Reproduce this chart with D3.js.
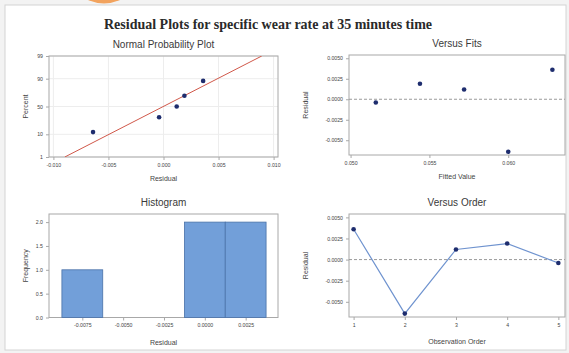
<!DOCTYPE html>
<html>
<head>
<meta charset="utf-8">
<script src="https://cdn.jsdelivr.net/npm/d3@7"></script>
<style>
  html, body { margin: 0; padding: 0; background: #f3f3f3; }
  svg { display: block; }
  text { font-family: "Liberation Sans", Arial, sans-serif; fill: #333; }
</style>
</head>
<body>
<script>
// Residual diagnostics for specific wear rate (35 min), in observation order
const observationOrder = [1, 2, 3, 4, 5];
const residuals = [0.0036, -0.0064, 0.0012, 0.0019, -0.0004];
const fittedValues = [0.0628, 0.0600, 0.0572, 0.0544, 0.0516];

// Histogram bins (centres) and counts
const histBinCenters = [-0.0075, -0.0050, -0.0025, 0.0000, 0.0025];
const histCounts = [1, 0, 0, 2, 2];

// Tick values / labels
const percentTicks = [1, 10, 50, 90, 99];
const nppResidualTicks = [-0.010, -0.005, 0.000, 0.005, 0.010];
const residualTicks = [-0.0050, -0.0025, 0.0000, 0.0025, 0.0050];
const fitTicks = [0.050, 0.055, 0.060];
const frequencyTicks = [0.0, 0.5, 1.0, 1.5, 2.0];

const W = 569, H = 353;
const svg = d3.select("body").append("svg").attr("width", W).attr("height", H);

svg.append("rect").attr("width", W).attr("height", H).attr("fill", "#f3f3f3");
svg.append("rect").attr("x", 5).attr("y", 5).attr("width", 561).attr("height", 345)
  .attr("fill", "#ffffff").attr("stroke", "#d4d4d4");
// decorative badge at the top edge
svg.append("circle").attr("cx", 104).attr("cy", -35).attr("r", 38.5).attr("fill", "#f2a35e");

svg.append("text").attr("x", 268).attr("y", 29).attr("text-anchor", "middle")
  .style("font-family", "'Liberation Serif', 'Times New Roman', serif")
  .style("font-weight", "bold").style("font-size", "14px").style("fill", "#2a2a2a")
  .text("Residual Plots for specific wear rate at 35 minutes time");

const frameColor = "#a8a8a8";
const markColor = "#1e2d6e";
const minus = s => s.replace("\u2212", "-");

// inverse standard normal CDF (Acklam's approximation)
function probit(p) {
  const a = [-39.69683028665376, 220.9460984245205, -275.9285104469687, 138.3577518672690, -30.66479806614716, 2.506628277459239];
  const b = [-54.47609879822406, 161.5858368580409, -155.6989798598866, 66.80131188771972, -13.28068155288572];
  const c = [-0.007784894002430293, -0.3223964580411365, -2.400758277161838, -2.549732539343734, 4.374664141464968, 2.938163982698783];
  const d = [0.007784695709041462, 0.3224671290700398, 2.445134137142996, 3.754408661907416];
  const pl = 0.02425;
  if (p < pl) {
    const q = Math.sqrt(-2 * Math.log(p));
    return (((((c[0]*q+c[1])*q+c[2])*q+c[3])*q+c[4])*q+c[5]) / ((((d[0]*q+d[1])*q+d[2])*q+d[3])*q+1);
  }
  if (p > 1 - pl) {
    const q = Math.sqrt(-2 * Math.log(1 - p));
    return -(((((c[0]*q+c[1])*q+c[2])*q+c[3])*q+c[4])*q+c[5]) / ((((d[0]*q+d[1])*q+d[2])*q+d[3])*q+1);
  }
  const q = p - 0.5, r = q * q;
  return (((((a[0]*r+a[1])*r+a[2])*r+a[3])*r+a[4])*r+a[5])*q / (((((b[0]*r+b[1])*r+b[2])*r+b[3])*r+b[4])*r+1);
}

function panel(box, title, xLabel, yLabel, xScale, yScale, xTicks, yTicks, xFmt, yFmt, grid) {
  const g = svg.append("g");
  if (grid) {
    g.selectAll(".gx").data(xTicks).join("line")
      .attr("x1", d => xScale(d)).attr("x2", d => xScale(d))
      .attr("y1", box.top).attr("y2", box.bottom).attr("stroke", "#ededed");
    g.selectAll(".gy").data(yTicks).join("line")
      .attr("y1", d => yScale(d)).attr("y2", d => yScale(d))
      .attr("x1", box.left).attr("x2", box.right).attr("stroke", "#ededed");
  }
  const xAxis = g.append("g").attr("transform", `translate(0,${box.bottom})`)
    .call(d3.axisBottom(xScale).tickValues(xTicks).tickFormat(xFmt).tickSize(3).tickSizeOuter(0).tickPadding(3));
  const yAxis = g.append("g").attr("transform", `translate(${box.left},0)`)
    .call(d3.axisLeft(yScale).tickValues(yTicks).tickFormat(yFmt).tickSize(3).tickSizeOuter(0).tickPadding(3));
  [xAxis, yAxis].forEach(a => {
    a.select(".domain").remove();
    a.selectAll("line").attr("stroke", frameColor);
    a.selectAll("text").style("font-size", "5.2px").style("fill", "#444");
  });
  g.append("rect").attr("x", box.left).attr("y", box.top)
    .attr("width", box.right - box.left).attr("height", box.bottom - box.top)
    .attr("fill", "none").attr("stroke", frameColor).attr("stroke-width", 1);
  const cx = (box.left + box.right) / 2;
  svg.append("text").attr("x", cx).attr("y", box.top - 8).attr("text-anchor", "middle")
    .style("font-size", "10px").style("fill", "#3a3a3a").text(title);
  svg.append("text").attr("x", cx).attr("y", box.bottom + box.xLabelGap).attr("text-anchor", "middle")
    .style("font-size", "7px").style("fill", "#444").text(xLabel);
  svg.append("text")
    .attr("transform", `translate(${box.left - box.yLabelGap},${(box.top + box.bottom) / 2}) rotate(-90)`)
    .attr("text-anchor", "middle").style("font-size", "7px").style("fill", "#444").text(yLabel);
  return g;
}

// ---------- Normal probability plot ----------
{
  const box = {left: 49, right: 278, top: 56, bottom: 157, xLabelGap: 24, yLabelGap: 21};
  const x = d3.scaleLinear().domain([-0.0104, 0.0104]).range([box.left, box.right]);
  // y runs in standard-normal quantiles so the percent axis is probability-scaled
  const zTicks = percentTicks.map(p => probit(p / 100));
  const y = d3.scaleLinear().domain([zTicks[0], zTicks[zTicks.length - 1]]).range([box.bottom, box.top]);
  const g = panel(box, "Normal Probability Plot", "Residual", "Percent", x, y,
    nppResidualTicks, zTicks, d => minus(d3.format(".3f")(d)), (d, i) => percentTicks[i], true);

  const n = residuals.length;
  const sorted = residuals.slice().sort(d3.ascending);
  const pts = sorted.map((r, i) => ({r, z: probit((i + 1 - 0.375) / (n + 0.25))}));
  const mu = d3.mean(residuals), sd = d3.deviation(residuals);
  svg.append("clipPath").attr("id", "nppClip").append("rect")
    .attr("x", box.left).attr("y", box.top).attr("width", box.right - box.left).attr("height", box.bottom - box.top);
  const zLo = zTicks[0], zHi = zTicks[zTicks.length - 1];
  g.append("line").attr("clip-path", "url(#nppClip)")
    .attr("x1", x(mu + zLo * sd)).attr("y1", y(zLo))
    .attr("x2", x(mu + zHi * sd)).attr("y2", y(zHi))
    .attr("stroke", "#d0584a").attr("stroke-width", 1);
  g.selectAll(".pt").data(pts).join("circle")
    .attr("cx", d => x(d.r)).attr("cy", d => y(d.z)).attr("r", 2.3).attr("fill", markColor);
}

const resFmt = d => minus(d3.format(".4f")(d));

// ---------- Versus Fits ----------
{
  const box = {left: 349, right: 565, top: 55, bottom: 155, xLabelGap: 24, yLabelGap: 41};
  const x = d3.scaleLinear().domain([0.0499, 0.0636]).range([box.left, box.right]);
  const y = d3.scaleLinear().domain([-0.0068, 0.0054]).range([box.bottom, box.top]);
  const g = panel(box, "Versus Fits", "Fitted Value", "Residual", x, y,
    fitTicks, residualTicks, d3.format(".3f"), resFmt, false);
  g.append("line").attr("x1", box.left).attr("x2", box.right).attr("y1", y(0)).attr("y2", y(0))
    .attr("stroke", "#9a9a9a").attr("stroke-dasharray", "3,2");
  g.selectAll(".pt").data(residuals).join("circle")
    .attr("cx", (d, i) => x(fittedValues[i])).attr("cy", d => y(d)).attr("r", 2.3).attr("fill", markColor);
}

// ---------- Histogram ----------
{
  const box = {left: 49, right: 278, top: 214, bottom: 317.5, xLabelGap: 27, yLabelGap: 21};
  const binW = 0.0025;
  const x = d3.scaleLinear().domain([-0.00954, 0.00448]).range([box.left, box.right]);
  const y = d3.scaleLinear().domain([0, 2.17]).range([box.bottom, box.top]);
  const g = panel(box, "Histogram", "Residual", "Frequency", x, y,
    histBinCenters, frequencyTicks, resFmt, d3.format(".1f"), false);
  g.selectAll(".bar").data(histCounts).join("rect")
    .attr("x", (d, i) => x(histBinCenters[i] - binW / 2))
    .attr("width", (d, i) => x(histBinCenters[i] + binW / 2) - x(histBinCenters[i] - binW / 2))
    .attr("y", d => y(d)).attr("height", d => y(0) - y(d))
    .attr("fill", "#729fd9").attr("stroke", "#4a72a8").attr("stroke-width", 0.8);
}

// ---------- Versus Order ----------
{
  const box = {left: 349, right: 565, top: 214, bottom: 317, xLabelGap: 27, yLabelGap: 41};
  const x = d3.scaleLinear().domain([0.91, 5.13]).range([box.left, box.right]);
  const y = d3.scaleLinear().domain([-0.0068, 0.0054]).range([box.bottom, box.top]);
  const g = panel(box, "Versus Order", "Observation Order", "Residual", x, y,
    observationOrder, residualTicks, d3.format("d"), resFmt, false);
  g.append("line").attr("x1", box.left).attr("x2", box.right).attr("y1", y(0)).attr("y2", y(0))
    .attr("stroke", "#9a9a9a").attr("stroke-dasharray", "3,2");
  g.append("path").datum(residuals)
    .attr("d", d3.line().x((d, i) => x(observationOrder[i])).y(d => y(d)))
    .attr("fill", "none").attr("stroke", "#6f93cf").attr("stroke-width", 1.2);
  g.selectAll(".pt").data(residuals).join("circle")
    .attr("cx", (d, i) => x(observationOrder[i])).attr("cy", d => y(d)).attr("r", 2.3).attr("fill", markColor);
}
</script>
</body>
</html>
